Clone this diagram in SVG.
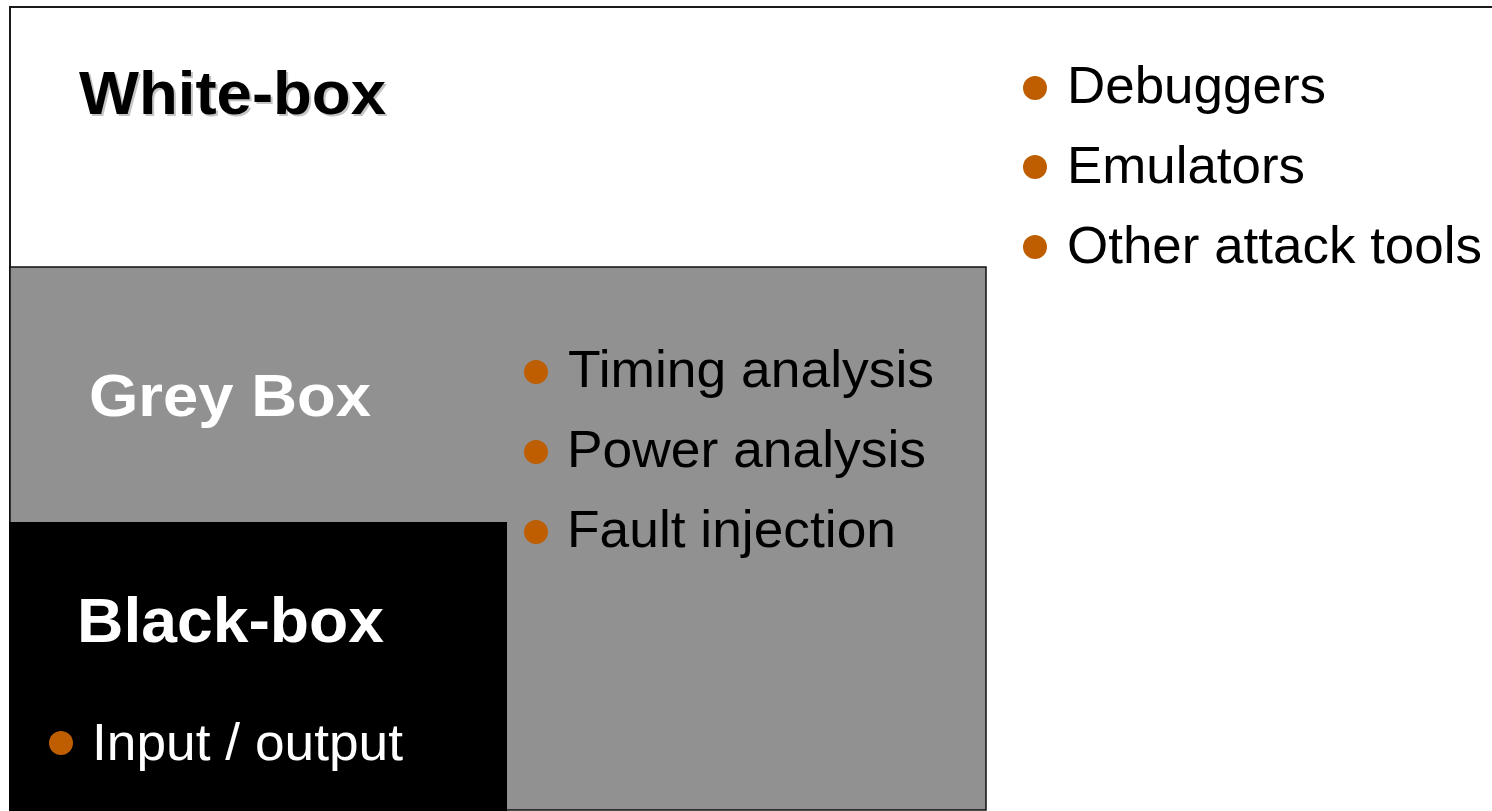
<svg xmlns="http://www.w3.org/2000/svg" width="1492" height="811" viewBox="0 0 1492 811">
  <style>
    .head { font-family: "Liberation Sans", Arial, sans-serif; font-weight: bold; }
    .item { font-family: "Liberation Sans", Arial, sans-serif; font-size: 52px; }
    .bullet { fill: #BF5E00; }
  </style>
  <rect width="1492" height="811" fill="#ffffff"/>
  <g id="white-box">
    <rect x="10" y="7" width="1500" height="820" fill="#ffffff" stroke="#1a1a1a" stroke-width="2"/>
    <text class="head" x="81" y="116" font-size="61" fill="#c4c4c4" textLength="307" lengthAdjust="spacingAndGlyphs">White-box</text>
    <text class="head" x="79" y="114" font-size="61" fill="#000000" textLength="307" lengthAdjust="spacingAndGlyphs">White-box</text>
    <circle class="bullet" cx="1035" cy="88" r="12"/>
    <text class="item" x="1067" y="103" textLength="259" lengthAdjust="spacingAndGlyphs">Debuggers</text>
    <circle class="bullet" cx="1035" cy="167" r="12"/>
    <text class="item" x="1067" y="183" textLength="238" lengthAdjust="spacingAndGlyphs">Emulators</text>
    <circle class="bullet" cx="1035" cy="247" r="12"/>
    <text class="item" x="1067" y="263" textLength="415" lengthAdjust="spacingAndGlyphs">Other attack tools</text>
  </g>
  <g id="grey-box">
    <rect x="10" y="267" width="976" height="543" fill="#919191" stroke="#111111" stroke-width="1.5"/>
    <text class="head" x="89" y="416" font-size="59" fill="#ffffff" textLength="282" lengthAdjust="spacingAndGlyphs">Grey Box</text>
    <circle class="bullet" cx="536" cy="372" r="12"/>
    <text class="item" x="568" y="387" textLength="366" lengthAdjust="spacingAndGlyphs">Timing analysis</text>
    <circle class="bullet" cx="536" cy="452" r="12"/>
    <text class="item" x="567" y="467" textLength="359" lengthAdjust="spacingAndGlyphs">Power analysis</text>
    <circle class="bullet" cx="536" cy="532" r="12"/>
    <text class="item" x="567" y="547" textLength="329" lengthAdjust="spacingAndGlyphs">Fault injection</text>
  </g>
  <g id="black-box">
    <rect x="9" y="522" width="498" height="300" fill="#000000"/>
    <text class="head" x="77" y="642" font-size="63" fill="#ffffff" textLength="307" lengthAdjust="spacingAndGlyphs">Black-box</text>
    <circle class="bullet" cx="61" cy="743" r="12"/>
    <text class="item" x="92" y="760" fill="#ffffff" textLength="311" lengthAdjust="spacingAndGlyphs">Input / output</text>
  </g>
  <g id="connectors"/>
</svg>
